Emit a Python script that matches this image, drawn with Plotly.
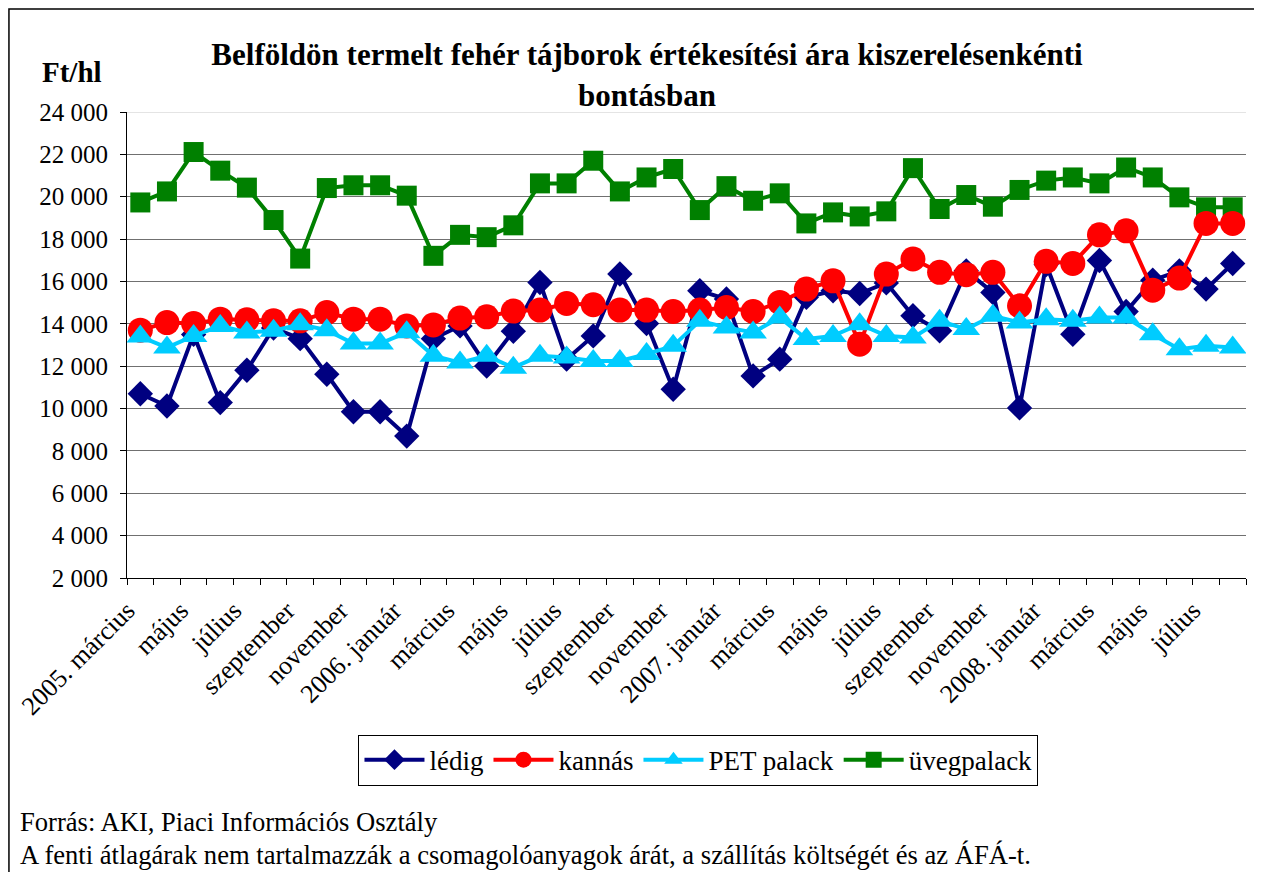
import plotly.graph_objects as go

# months: 2005 March .. 2008 August
months = [
    "2005. március", "2005. április", "2005. május", "2005. június", "2005. július",
    "2005. augusztus", "2005. szeptember", "2005. október", "2005. november", "2005. december",
    "2006. január", "2006. február", "2006. március", "2006. április", "2006. május",
    "2006. június", "2006. július", "2006. augusztus", "2006. szeptember", "2006. október",
    "2006. november", "2006. december", "2007. január", "2007. február", "2007. március",
    "2007. április", "2007. május", "2007. június", "2007. július", "2007. augusztus",
    "2007. szeptember", "2007. október", "2007. november", "2007. december", "2008. január",
    "2008. február", "2008. március", "2008. április", "2008. május", "2008. június",
    "2008. július", "2008. augusztus",
]
tick_labels = [
    "2005. március", "", "május", "", "július", "", "szeptember", "", "november", "",
    "2006. január", "", "március", "", "május", "", "július", "", "szeptember", "",
    "november", "", "2007. január", "", "március", "", "május", "", "július", "",
    "szeptember", "", "november", "", "2008. január", "", "március", "", "május", "",
    "július", "",
]

ledig = [10700, 10120, 13500, 10280, 11810, 13800, 13300, 11620, 9850, 9850,
         8700, 13300, 13900, 12010, 13650, 15950, 12330, 13430, 16350, 14010,
         10910, 15560, 15170, 11540, 12330, 15250, 15560, 15430, 15930, 14380,
         13670, 16500, 15480, 10030, 16800, 13510, 16990, 14580, 16060, 16500,
         15640, 16850]
kannas = [13700, 14060, 14010, 14220, 14190, 14140, 14140, 14530, 14220, 14220,
          13900, 13950, 14270, 14330, 14600, 14650, 14960, 14900, 14650, 14650,
          14580, 14650, 14770, 14580, 15010, 15640, 16030, 13040, 16350, 17060,
          16430, 16320, 16430, 14850, 16950, 16850, 18200, 18390, 15590, 16160,
          18740, 18740]
pet = [13400, 12880, 13430, 13900, 13590, 13670, 13980, 13700, 13070, 13070,
       13600, 12490, 12170, 12490, 11930, 12490, 12410, 12250, 12250, 12570,
       12960, 14140, 13830, 13590, 14300, 13280, 13430, 13980, 13430, 13350,
       14140, 13750, 14380, 14060, 14220, 14140, 14300, 14300, 13510, 12800,
       12960, 12880]
uveg = [19730, 20250, 22110, 21230, 20430, 18900, 17080, 20410, 20540, 20540,
        20050, 17210, 18200, 18090, 18650, 20630, 20630, 21700, 20250, 20910,
        21310, 19370, 20500, 19810, 20160, 18740, 19260, 19070, 19310, 21350,
        19420, 20080, 19530, 20320, 20760, 20910, 20630, 21380, 20910, 19970,
        19500, 19500]

FONT = "Liberation Serif"

# drawing order matches the reference overlap; legendrank keeps legend order
series = [
    ("lédig", ledig, "#000080", "diamond", 19.5, 1),
    ("üvegpalack", uveg, "#008000", "square", 20, 4),
    ("kannás", kannas, "#FF0000", "circle", 25, 2),
    ("PET palack", pet, "#00CCFF", "triangle-up", 24, 3),
]

fig = go.Figure()
for name, vals, color, sym, size, rank in series:
    fig.add_trace(go.Scatter(
        x=months, y=vals, name=name, mode="lines+markers",
        line=dict(color=color, width=4),
        marker=dict(symbol=sym, size=size, color=color),
        legendrank=rank,
    ))

# page body adds an 8px offset, so the figure is 8px smaller than the window
fig.update_layout(
    width=1254, height=864,
    margin=dict(l=119, r=16, t=104, b=294, autoexpand=False),
    paper_bgcolor="white", plot_bgcolor="white",
    font=dict(family=FONT, size=25, color="black"),
    separators=", ",
    title=dict(
        text="<b>Belföldön termelt fehér tájborok értékesítési ára kiszerelésenkénti<br>bontásban</b>",
        xref="paper", x=0.4647, xanchor="center", y=0.9335, yanchor="top",
        font=dict(family=FONT, size=31),
    ),
    showlegend=True,
    legend=dict(
        orientation="h", x=0.5107, xanchor="center", y=-0.336, yanchor="top",
        bordercolor="black", borderwidth=1, font=dict(family=FONT, size=27),
        itemwidth=60, traceorder="normal",
    ),
    xaxis=dict(
        type="category", tickmode="array", tickvals=months, ticktext=tick_labels,
        range=[-0.5, len(months) - 0.5],
        tickangle=-45, tickson="boundaries", ticks="outside", ticklen=6,
        tickcolor="black", showline=True, linecolor="black", linewidth=1,
        ticklabelshift=-13, ticklabelstandoff=6,
        showgrid=False, tickfont=dict(family=FONT, size=26), automargin=False,
    ),
    yaxis=dict(
        range=[2000, 24000], dtick=2000, tickformat=",d",
        ticks="outside", ticklen=6, tickcolor="black", ticklabelstandoff=7,
        showline=True, linecolor="black", linewidth=1,
        showgrid=True, gridcolor="#707070", gridwidth=1,
        tickfont=dict(family=FONT, size=25), zeroline=False, automargin=False,
    ),
    shapes=[
        dict(type="line", xref="paper", yref="y", x0=0, x1=1, y0=24000, y1=24000,
             line=dict(color="#e4e4e4", width=2), layer="below"),
        dict(type="rect", xref="paper", yref="paper", x0=-0.1055, x1=1.0107,
             y0=-0.66, y1=1.221, line=dict(color="black", width=1.5)),
    ],
    annotations=[
        dict(text="<b>Ft/hl</b>", xref="paper", yref="paper", x=-0.049, y=1.086,
             xanchor="center", yanchor="middle", showarrow=False,
             font=dict(family=FONT, size=29)),
        dict(text="Forrás: AKI, Piaci Információs Osztály", xref="paper", yref="paper",
             x=-0.0974, y=-0.5236, xanchor="left", yanchor="middle", showarrow=False,
             font=dict(family=FONT, size=26.6)),
        dict(text="A fenti átlagárak nem tartalmazzák a csomagolóanyagok árát, a szállítás költségét és az ÁFÁ-t.",
             xref="paper", yref="paper", x=-0.0974, y=-0.594, xanchor="left",
             yanchor="middle", showarrow=False, font=dict(family=FONT, size=26.6)),
    ],
)

fig.write_html("out.html")
